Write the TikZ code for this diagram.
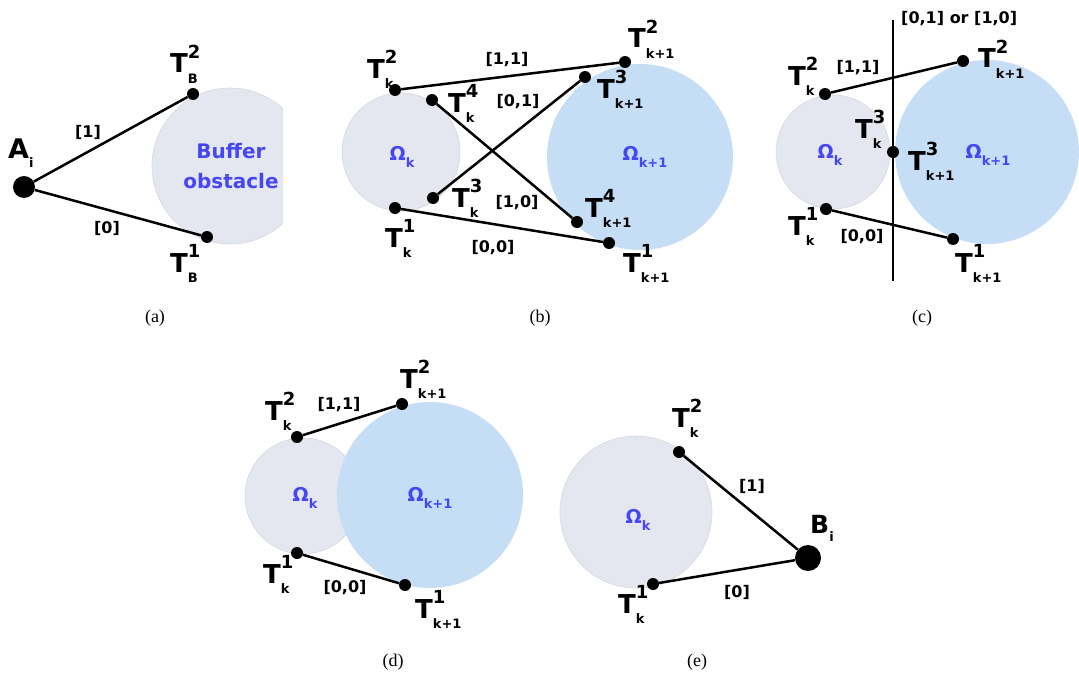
\documentclass[tikz,border=0pt]{standalone}
\usepackage{fontspec}
\setmainfont{Liberation Serif}
\newfontfamily\labsans{DejaVu Sans}
\usetikzlibrary{positioning}
\definecolor{obsgray}{HTML}{E4E7EF}
\definecolor{obsgrayline}{HTML}{D3D7E0}
\definecolor{obsblue}{HTML}{C6DDF6}
\definecolor{omegablue}{HTML}{4646F2}
\newcommand{\tsym}[2]{T\rlap{\raisebox{0.56em}{\fontsize{18}{18}\selectfont #1}}\raisebox{-0.4em}{\fontsize{13}{13}\selectfont #2}}
\newcommand{\omg}[1]{Ω\raisebox{-0.35em}{\fontsize{13}{13}\selectfont #1}}

\begin{document}
\begin{tikzpicture}[x=1pt, y=-1pt,
    tdot/.style={circle, fill=black, inner sep=0pt, minimum size=#1},
    tdot/.default=12pt,
    conn/.style={line width=2.5pt},
    tlab/.style={anchor=base west, inner sep=0pt, font=\labsans\bfseries\fontsize{26}{26}\selectfont},
    code/.style={inner sep=1pt, font=\labsans\bfseries\fontsize{16}{16}\selectfont},
    olab/.style={inner sep=0pt, text=omegablue, font=\labsans\bfseries\fontsize{19}{19}\selectfont},
    gobs/.style={fill=obsgray, draw=obsgrayline, line width=0.6pt},
    bobs/.style={fill=obsblue},
    caption/.style={inner sep=0pt, font=\fontsize{18}{18}\selectfont}
]
\useasboundingbox (0,0) rectangle (1079,677);

% (a)
\begin{scope}
\clip (140,60) rectangle (283,260);
\draw[gobs] (230,166) circle (78);
\end{scope}
\node[olab, font=\labsans\bfseries\fontsize{20}{30}\selectfont, align=center] (a-buf) at (231,166) {Buffer\\obstacle};
\node[tdot=22pt] (a-A) at (24,187) {};
\node[tdot] (a-t2) at (193,94) {};
\node[tdot] (a-t1) at (207,237) {};
\draw[conn] (a-A) -- (a-t2);
\draw[conn] (a-A) -- (a-t1);
\node[tlab, font=\labsans\bfseries\fontsize{27}{27}\selectfont] (a-Alab) at (8,158) {A\raisebox{-0.35em}{\fontsize{13}{13}\selectfont i}};
\node[tlab] (a-t2lab) at (170,73) {\tsym{2}{B}};
\node[tlab] (a-t1lab) at (170,272) {\tsym{1}{B}};
\node[code] (a-c1) at (88,132) {[1]};
\node[code] (a-c0) at (107,228) {[0]};
\node[caption] (a-cap) at (155,318) {(a)};

% (b)
\draw[gobs] (401,152) circle (59);
\fill[bobs] (640,157) circle (93);
\node[olab] (b-om) at (402,157) {\omg{k}};
\node[olab] (b-om1) at (645,157) {\omg{k+1}};
\node[tdot] (b-k2) at (395,90) {};
\node[tdot] (b-k4) at (432,100) {};
\node[tdot] (b-k3) at (433,198) {};
\node[tdot] (b-k1) at (395,208) {};
\node[tdot] (b-n2) at (625,62) {};
\node[tdot] (b-n3) at (585,77) {};
\node[tdot] (b-n4) at (577,222) {};
\node[tdot] (b-n1) at (609,243) {};
\draw[conn] (b-k2) -- (b-n2);
\draw[conn] (b-k4) -- (b-n4);
\draw[conn] (b-k3) -- (b-n3);
\draw[conn] (b-k1) -- (b-n1);
\node[tlab] (b-k2lab) at (367,78) {\tsym{2}{k}};
\node[tlab] (b-k4lab) at (448,112) {\tsym{4}{k}};
\node[tlab] (b-k3lab) at (452,207) {\tsym{3}{k}};
\node[tlab] (b-k1lab) at (385,247) {\tsym{1}{k}};
\node[tlab] (b-n2lab) at (628,48) {\tsym{2}{k+1}};
\node[tlab] (b-n3lab) at (597,98) {\tsym{3}{k+1}};
\node[tlab] (b-n4lab) at (585,217) {\tsym{4}{k+1}};
\node[tlab] (b-n1lab) at (623,272) {\tsym{1}{k+1}};
\node[code] (b-c11) at (507,60) {[1,1]};
\node[code] (b-c01) at (518,102) {[0,1]};
\node[code] (b-c10) at (517,203) {[1,0]};
\node[code] (b-c00) at (493,248) {[0,0]};
\node[caption] (b-cap) at (540,318) {(b)};

% (c)
\draw[gobs] (833,152) circle (57);
\fill[bobs] (987,152) circle (92);
\node[olab] (c-om) at (830,155) {\omg{k}};
\node[olab] (c-om1) at (988,155) {\omg{k+1}};
\coordinate (c-top) at (893,20);
\coordinate (c-bot) at (893,281);
\draw[conn, line width=2pt] (c-top) -- (c-bot);
\node[code, anchor=west] (c-sep) at (900,19) {[0,1] or [1,0]};
\node[tdot] (c-k2) at (825,94) {};
\node[tdot] (c-n2) at (963,61) {};
\node[tdot] (c-k3) at (893,152) {};
\node[tdot] (c-k1) at (826,209) {};
\node[tdot] (c-n1) at (953,239) {};
\draw[conn] (c-k2) -- (c-n2);
\draw[conn] (c-k1) -- (c-n1);
\node[tlab] (c-k2lab) at (788,85) {\tsym{2}{k}};
\node[tlab] (c-n2lab) at (978,68) {\tsym{2}{k+1}};
\node[tlab] (c-k3lab) at (855,138) {\tsym{3}{k}};
\node[tlab] (c-n3lab) at (908,170) {\tsym{3}{k+1}};
\node[tlab] (c-k1lab) at (788,235) {\tsym{1}{k}};
\node[tlab] (c-n1lab) at (955,272) {\tsym{1}{k+1}};
\node[code] (c-c11) at (858,68) {[1,1]};
\node[code] (c-c00) at (862,237) {[0,0]};
\node[caption] (c-cap) at (922,318) {(c)};

% (d)
\draw[gobs] (303,496) circle (58);
\fill[bobs] (430,495) circle (93);
\node[olab] (d-om) at (305,498) {\omg{k}};
\node[olab] (d-om1) at (430,498) {\omg{k+1}};
\node[tdot] (d-k2) at (297,437) {};
\node[tdot] (d-n2) at (402,404) {};
\node[tdot] (d-k1) at (297,553) {};
\node[tdot] (d-n1) at (405,585) {};
\draw[conn] (d-k2) -- (d-n2);
\draw[conn] (d-k1) -- (d-n1);
\node[tlab] (d-k2lab) at (265,420) {\tsym{2}{k}};
\node[tlab] (d-n2lab) at (400,388) {\tsym{2}{k+1}};
\node[tlab] (d-k1lab) at (263,583) {\tsym{1}{k}};
\node[tlab] (d-n1lab) at (415,618) {\tsym{1}{k+1}};
\node[code] (d-c11) at (339,405) {[1,1]};
\node[code] (d-c00) at (345,588) {[0,0]};
\node[caption] (d-cap) at (393,662) {(d)};

% (e)
\draw[gobs] (636,512) circle (76);
\node[olab] (e-om) at (638,520) {\omg{k}};
\node[tdot] (e-k2) at (679,452) {};
\node[tdot] (e-k1) at (653,584) {};
\node[tdot=26pt] (e-B) at (808,558) {};
\draw[conn] (e-k2) -- (e-B);
\draw[conn] (e-k1) -- (e-B);
\node[tlab] (e-k2lab) at (672,427) {\tsym{2}{k}};
\node[tlab] (e-k1lab) at (618,613) {\tsym{1}{k}};
\node[tlab, font=\labsans\bfseries\fontsize{25}{25}\selectfont] (e-Blab) at (810,533) {B\raisebox{-0.35em}{\fontsize{13}{13}\selectfont i}};
\node[code] (e-c1) at (752,486) {[1]};
\node[code] (e-c0) at (737,592) {[0]};
\node[caption] (e-cap) at (697,662) {(e)};
\end{tikzpicture}
\end{document}
